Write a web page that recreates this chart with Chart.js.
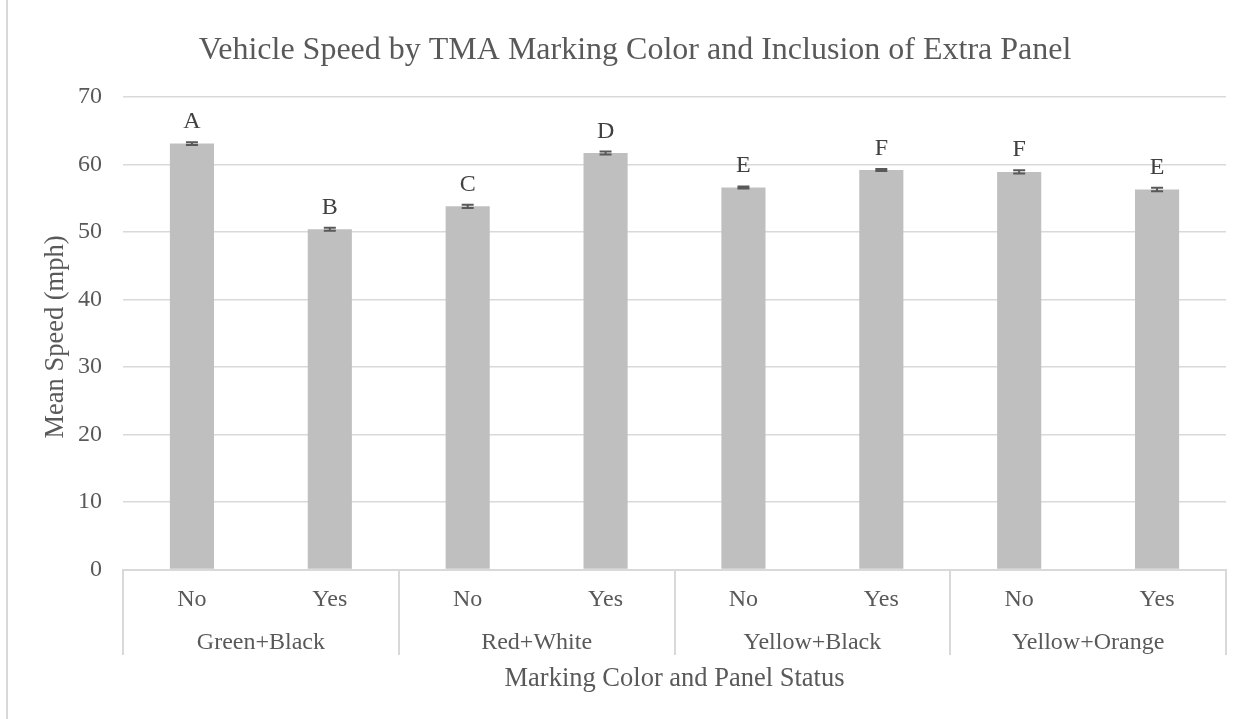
<!DOCTYPE html>
<html>
<head>
<meta charset="utf-8">
<script src="https://cdn.jsdelivr.net/npm/chart.js@4.4.1/dist/chart.umd.min.js"></script>
<style>
  html, body { margin: 0; padding: 0; background: #ffffff; }
  #wrap { width: 1252px; height: 719px; }
</style>
</head>
<body>
<div id="wrap"><canvas id="chart" width="1252" height="719"></canvas></div>
<script>
// Mean vehicle speed per marking colour / extra-panel combination
const colorGroups = ['Green+Black', 'Red+White', 'Yellow+Black', 'Yellow+Orange'];
const panelStatus = ['No', 'Yes', 'No', 'Yes', 'No', 'Yes', 'No', 'Yes'];
const meanSpeed   = [63.1, 50.4, 53.8, 61.7, 56.6, 59.2, 58.9, 56.3];
const speedError  = [0.20, 0.22, 0.25, 0.22, 0.15, 0.15, 0.25, 0.25];
const groupLetter = ['A', 'B', 'C', 'D', 'E', 'F', 'F', 'E'];
const yTicks      = [0, 10, 20, 30, 40, 50, 60, 70];

const chartTitle = 'Vehicle Speed by TMA Marking Color and Inclusion of Extra Panel';
const xTitle = 'Marking Color and Panel Status';
const yTitle = 'Mean Speed (mph)';

const FONT = '"Liberation Serif", "Times New Roman", serif';
const TEXT = '#595959';
const LINE = '#D9D9D9';

const decor = {
  id: 'decor',
  beforeDraw(chart) {
    const ctx = chart.ctx;
    ctx.save();
    ctx.fillStyle = '#ffffff';
    ctx.fillRect(0, 0, chart.width, chart.height);
    // outer frame edge
    ctx.strokeStyle = LINE;
    ctx.lineWidth = 2;
    ctx.beginPath();
    ctx.moveTo(7, 0);
    ctx.lineTo(7, chart.height);
    ctx.stroke();
    ctx.restore();
  },
  afterDatasetsDraw(chart) {
    const ctx = chart.ctx;
    const x = chart.scales.x, y = chart.scales.y;
    ctx.save();
    // error bars
    ctx.strokeStyle = '#595959';
    ctx.lineWidth = 2;
    meanSpeed.forEach((v, i) => {
      const cx = x.getPixelForValue(i);
      const top = y.getPixelForValue(v + speedError[i]);
      const bot = y.getPixelForValue(v - speedError[i]);
      ctx.beginPath();
      ctx.moveTo(cx, top); ctx.lineTo(cx, bot);
      ctx.moveTo(cx - 6, top); ctx.lineTo(cx + 6, top);
      ctx.moveTo(cx - 6, bot); ctx.lineTo(cx + 6, bot);
      ctx.stroke();
    });
    // significance letters
    ctx.fillStyle = '#404040';
    ctx.font = '24px ' + FONT;
    ctx.textAlign = 'center';
    ctx.textBaseline = 'alphabetic';
    groupLetter.forEach((t, i) => {
      const cx = x.getPixelForValue(i);
      const top = y.getPixelForValue(meanSpeed[i] + speedError[i]);
      ctx.fillText(t, cx, top - 14);
    });
    ctx.restore();
  },
  afterDraw(chart) {
    const ctx = chart.ctx;
    const x = chart.scales.x, y = chart.scales.y;
    const step = (x.right - x.left) / panelStatus.length;
    ctx.save();
    ctx.fillStyle = TEXT;
    ctx.textAlign = 'center';
    ctx.textBaseline = 'alphabetic';

    // title
    ctx.font = '32px ' + FONT;
    ctx.fillText(chartTitle, 635, 59);

    // inner category labels
    ctx.font = '24px ' + FONT;
    panelStatus.forEach((t, i) => {
      ctx.fillText(t, x.getPixelForValue(i), 606);
    });
    // group labels
    colorGroups.forEach((g, k) => {
      const cx = x.left + (2 * k + 1) * step;
      ctx.fillText(g, cx, 649);
    });
    // group separators
    ctx.strokeStyle = LINE;
    ctx.lineWidth = 2;
    for (let k = 0; k <= colorGroups.length; k++) {
      const sx = Math.round(x.left + 2 * k * step);
      ctx.beginPath();
      ctx.moveTo(sx, x.top);
      ctx.lineTo(sx, 655);
      ctx.stroke();
    }

    // axis titles
    ctx.font = '26.5px ' + FONT;
    ctx.fillText(xTitle, (x.left + x.right) / 2, 686);
    ctx.translate(63, 337);
    ctx.rotate(-Math.PI / 2);
    ctx.fillText(yTitle, 0, 0);
    ctx.restore();
  }
};

new Chart(document.getElementById('chart'), {
  type: 'bar',
  data: {
    labels: panelStatus.map((p, i) => colorGroups[Math.floor(i / 2)] + ' ' + p),
    datasets: [{
      data: meanSpeed,
      backgroundColor: '#BFBFBF',
      borderWidth: 0,
      categoryPercentage: 1,
      barPercentage: 0.32
    }]
  },
  options: {
    responsive: false,
    animation: false,
    layout: { padding: { left: 0, top: 97, right: 26, bottom: 0 } },
    plugins: { legend: { display: false }, tooltip: { enabled: false }, title: { display: false } },
    scales: {
      x: {
        offset: true,
        grid: { display: false },
        ticks: { display: false },
        border: { display: true, color: LINE, width: 2 },
        afterFit(s) { s.height = 149.5; }
      },
      y: {
        min: yTicks[0],
        max: yTicks[yTicks.length - 1],
        afterBuildTicks(s) { s.ticks = yTicks.map(v => ({ value: v })); },
        ticks: { font: { family: FONT, size: 24 }, color: TEXT, padding: 21 },
        grid: { color: LINE, lineWidth: 1.5, drawTicks: false },
        border: { display: false },
        afterFit(s) { s.width = 123; }
      }
    }
  },
  plugins: [decor]
});
</script>
</body>
</html>
